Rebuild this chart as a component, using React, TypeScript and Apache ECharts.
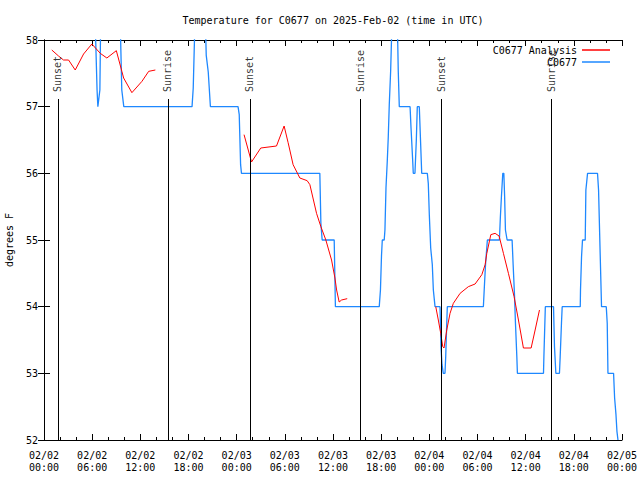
import React, { useEffect, useRef } from "react";
import * as echarts from "echarts";

const FONT = "DejaVu Sans Mono";

// Observation series "C0677" (hours since 2025-02-02 00:00 UTC, degrees F)
const obsHours = [
  0, 6.3, 6.49, 6.61, 6.71, 6.96, 7.08, 9.45, 9.69, 9.94,
  18.44, 18.59, 18.85, 20.05, 20.21, 20.46, 20.73, 24.17, 24.32, 24.49,
  24.6, 34.36, 34.49, 34.65, 36.15, 36.3, 41.76, 41.91, 42.04, 42.14,
  42.38, 42.47, 42.6, 42.76, 42.88, 43.01, 43.18, 43.4, 43.98, 44.13,
  44.26, 45.6, 45.72, 45.93, 46.0, 46.21, 46.38, 46.5, 46.75, 46.9,
  47.05, 47.75, 47.87, 48.0, 48.17, 48.37, 48.5, 48.71, 49.33, 49.46,
  49.58, 49.74, 49.95, 50.04, 50.17, 50.24, 54.73, 54.88, 55.01, 55.23,
  56.73, 56.85, 56.98, 57.15, 57.28, 57.38, 57.48, 57.69, 58.31, 58.44,
  58.6, 58.73, 58.9, 58.97, 62.22, 62.27, 62.45, 63.47, 63.59, 63.76,
  64.21, 64.3, 64.46, 64.55, 66.8, 66.83, 66.96, 67.08, 67.42, 67.5,
  67.71, 68.95, 69.08, 69.29, 69.45, 70.04, 70.16, 70.25, 70.95, 71.08,
  71.25, 71.37, 71.5,
];
const obsTemps = [
  58.6, 58.6, 57.77, 57.25, 57.0, 57.25, 58.5, 58.5, 57.25, 57.0,
  57.0, 57.28, 58.5, 58.5, 57.77, 57.52, 57.0, 57.0, 56.88, 56.13,
  56.0, 56.0, 55.25, 55.0, 55.0, 54.0, 54.0, 54.25, 54.76, 55.0,
  55.0, 55.15, 55.78, 56.18, 56.53, 57.03, 57.53, 58.5, 58.5, 57.53,
  57.0, 57.0, 56.68, 56.18, 56.0, 56.0, 56.5, 57.0, 57.0, 56.5,
  56.0, 56.0, 55.85, 55.37, 54.88, 54.63, 54.25, 54.0, 54.0, 53.38,
  53.13, 53.0, 53.0, 53.25, 53.75, 54.0, 54.0, 54.36, 54.65, 55.0,
  55.0, 55.35, 55.65, 56.0, 56.0, 55.65, 55.15, 55.0, 55.0, 54.63,
  54.2, 53.75, 53.25, 53.0, 53.0, 53.25, 54.0, 54.0, 53.4, 53.0,
  53.0, 53.25, 53.75, 54.0, 54.0, 54.25, 54.75, 55.0, 55.0, 55.75,
  56.0, 56.0, 55.75, 54.75, 54.0, 54.0, 53.75, 53.0, 53.0, 52.63,
  52.38, 52.13, 52.0,
];

// Analysis series "C0677 Analysis" (null = gap)
const anaHours = [
  0.97, 1.81, 2.43, 3.06, 3.89, 4.93, 5.96, 7.01, 7.83, 9.01,
  9.7, 9.92, 10.95, 12.2, 13.04, 13.87, 18,
  24.92, 25.85, 27.0, 28.96, 29.91, 30.41, 30.62, 31.03, 31.87, 32.78,
  33.12, 33.95, 34.49, 35.11, 35.82, 36.24, 36.45, 36.77, 37.07, 37.77, 42,
  48.8, 49.12, 49.42, 49.67, 49.83, 50.17, 50.58, 50.99, 51.83, 52.86,
  53.7, 54.54, 54.95, 55.16, 55.66, 56.19, 56.69, 57.23, 57.85, 58.56,
  59.1, 59.72, 60.68, 61.18, 61.72,
];
const anaTemps: (number | null)[] = [
  57.85, 57.76, 57.7, 57.7, 57.55, 57.79, 57.94, 57.8, 57.73, 57.84,
  57.53, 57.43, 57.21, 57.38, 57.53, 57.55, null,
  56.58, 56.17, 56.38, 56.41, 56.71, 56.46, 56.35, 56.13, 55.93, 55.89,
  55.83, 55.4, 55.2, 55.0, 54.7, 54.43, 54.25, 54.07, 54.1, 54.12, null,
  54.0, 53.8, 53.6, 53.4, 53.38, 53.65, 53.9, 54.05, 54.2, 54.3,
  54.34, 54.48, 54.63, 54.8, 55.08, 55.1, 55.06, 54.8, 54.5, 54.15,
  53.8, 53.38, 53.38, 53.65, 53.95,
];

// Sunset / sunrise markers (hours)
const sunNames = ["Sunset", "Sunrise", "Sunset", "Sunrise", "Sunset", "Sunrise"];
const sunHours = [1.72, 15.44, 25.65, 39.39, 49.46, 63.22];
const sunLineTop = 57.115;
const sunLabelBase = 57.22;

const xMin = 0;
const xMax = 72;
const xStep = 6;
const yMin = 52;
const yMax = 58;

const pad = (n: number) => (n < 10 ? "0" + n : "" + n);
const fmtX = (h: number) => {
  const day = 2 + Math.floor(h / 24);
  const hh = Math.round(h % 24);
  return "02/" + pad(day) + "\n" + pad(hh) + ":00";
};

export default function App() {
  const ref = useRef<HTMLDivElement>(null);
  useEffect(() => {
    if (!ref.current) return;
    const chart = echarts.init(ref.current, null, { renderer: "svg" });
    const axisCommon = {
      type: "value" as const,
      min: xMin,
      max: xMax,
      interval: xStep,
      axisLine: { show: true, lineStyle: { color: "#000", width: 1 } },
      axisTick: { show: true, inside: true, length: 6, lineStyle: { color: "#000" } },
      minorTick: { show: true, splitNumber: 3, length: 3, lineStyle: { color: "#000" } },
      splitLine: { show: false },
    };
    const yCommon = {
      type: "value" as const,
      min: yMin,
      max: yMax,
      interval: 1,
      axisLine: { show: true, lineStyle: { color: "#000", width: 1 } },
      axisTick: { show: true, inside: true, length: 6, lineStyle: { color: "#000" } },
      splitLine: { show: false },
    };
    chart.setOption({
      animation: false,
      backgroundColor: "#fff",
      title: {
        text: "Temperature for C0677 on 2025-Feb-02 (time in UTC)",
        left: 328,
        top: 10,
        textAlign: "center",
        textStyle: { fontFamily: FONT, fontSize: 10, fontWeight: "normal", color: "#000" },
      },
      legend: {
        data: ["C0677 Analysis", "C0677"],
        orient: "vertical",
        right: 25,
        top: 40,
        align: "right",
        icon: "rect",
        itemWidth: 28,
        itemHeight: 1.5,
        itemGap: 2,
        selectedMode: false,
        textStyle: { fontFamily: FONT, fontSize: 10, color: "#000" },
      },
      grid: { left: 44, right: 18, top: 40, bottom: 40, outerBoundsMode: "none", containLabel: false },
      xAxis: [
        {
          ...axisCommon,
          position: "bottom",
          axisLabel: {
            formatter: (v: number) => fmtX(v),
            fontFamily: FONT,
            fontSize: 10,
            color: "#000",
            lineHeight: 12,
            margin: 9,
          },
        },
        { ...axisCommon, position: "top", axisLabel: { show: false } },
      ],
      yAxis: [
        {
          ...yCommon,
          position: "left",
          name: "degrees F",
          nameLocation: "middle",
          nameGap: 30,
          nameTextStyle: { fontFamily: FONT, fontSize: 10, color: "#000" },
          axisLabel: { fontFamily: FONT, fontSize: 10, color: "#000", margin: 6 },
        },
        { ...yCommon, position: "right", axisLabel: { show: false } },
      ],
      series: [
        {
          name: "C0677 Analysis",
          type: "line",
          data: anaHours.map((h, i) => [h, anaTemps[i] === null ? "-" : anaTemps[i]]),
          showSymbol: false,
          connectNulls: false,
          lineStyle: { color: "#ff0000", width: 1 },
          itemStyle: { color: "#ff0000" },
          z: 3,
        },
        {
          name: "C0677",
          type: "line",
          data: obsHours.map((h, i) => [h, obsTemps[i]]),
          showSymbol: false,
          clip: true,
          lineStyle: { color: "#1e88ff", width: 1.3 },
          itemStyle: { color: "#1e88ff" },
          z: 2,
        },
        {
          name: "sun",
          type: "scatter",
          data: sunHours.map((h, i) => ({ name: sunNames[i], value: [h, sunLabelBase] })),
          symbolSize: 1,
          itemStyle: { color: "rgba(0,0,0,0)" },
          silent: true,
          label: {
            show: true,
            formatter: "{b}",
            position: "inside",
            rotate: 90,
            align: "left",
            verticalAlign: "middle",
            fontFamily: FONT,
            fontSize: 10,
            color: "#000",
          },
          markLine: {
            silent: true,
            symbol: ["none", "none"],
            label: { show: false },
            lineStyle: { color: "#000", width: 1, type: "solid" },
            data: sunHours.map((h) => [{ coord: [h, yMin] }, { coord: [h, sunLineTop] }]),
          },
          z: 4,
        },
      ],
    });
    return () => chart.dispose();
  }, []);
  return (
    <div
      ref={ref}
      style={{ position: "fixed", left: 0, top: 0, width: 640, height: 480, background: "#fff" }}
    />
  );
}
